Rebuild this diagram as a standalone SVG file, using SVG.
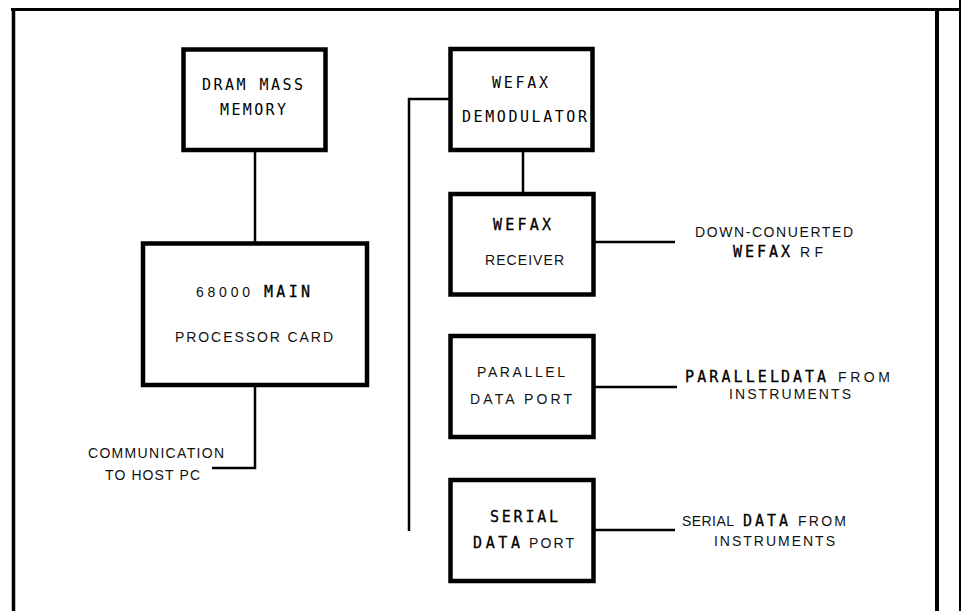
<svg xmlns="http://www.w3.org/2000/svg" width="961" height="611" viewBox="0 0 961 611">
<style>
.box{fill:#fff;stroke:#000;stroke-width:4.5}
.frame{stroke:#000;fill:none}
.conn{stroke:#000;stroke-width:2.5;fill:none}
.p{font-family:"DejaVu Sans Mono","Liberation Mono",monospace;font-size:15px;fill:#000}
.pb{font-family:"DejaVu Sans Mono","Liberation Mono",monospace;font-size:15px;fill:#000;stroke:#000;stroke-width:0.3}
.s{font-family:"Liberation Sans",Arial,sans-serif;font-size:14px;fill:#111}
</style>
<rect width="961" height="611" fill="#fff"/>
<g id="frame">
<line class="frame" x1="11" y1="9.5" x2="961" y2="9.5" stroke-width="3"/>
<line class="frame" x1="13.5" y1="8" x2="13.5" y2="611" stroke-width="3.5"/>
<line class="frame" x1="937" y1="9" x2="937" y2="611" stroke-width="4"/>
<line class="frame" x1="960" y1="0" x2="960" y2="611" stroke-width="2"/>
</g>
<g id="connectors">
<path class="conn" d="M255 150 V243"/>
<path class="conn" d="M255 385 V468 H212"/>
<path class="conn" d="M450 99 H409 V531"/>
<path class="conn" d="M523 150 V194"/>
<path class="conn" d="M593 242 H675"/>
<path class="conn" d="M593 387 H677"/>
<path class="conn" d="M593 530 H675"/>
</g>
<g id="dram">
<rect class="box" x="183.5" y="49.5" width="142" height="100.5"/>
<text class="p" x="202" y="90" textLength="101" lengthAdjust="spacing">DRAM MASS</text>
<text class="p" x="220" y="115" textLength="66" lengthAdjust="spacing">MEMORY</text>
</g>
<g id="demod">
<rect class="box" x="450.5" y="49" width="142" height="101"/>
<text class="p" x="492" y="88" textLength="56" lengthAdjust="spacing">WEFAX</text>
<text class="p" x="462" y="122" textLength="125" lengthAdjust="spacing">DEMODULATOR</text>
</g>
<g id="receiver">
<rect class="box" x="450.5" y="194" width="143" height="100.5"/>
<text class="pb" x="493" y="230" textLength="58" lengthAdjust="spacing">WEFAX</text>
<text class="s" x="485" y="265" textLength="79" lengthAdjust="spacing">RECEIVER</text>
</g>
<g id="processor">
<rect class="box" x="143" y="243.5" width="224" height="141.5" stroke-width="5"/>
<text class="s" x="196" y="297" textLength="54" lengthAdjust="spacing">68000</text>
<text class="pb" x="264" y="297" textLength="46" lengthAdjust="spacing">MAIN</text>
<text class="s" x="175" y="342" textLength="158" lengthAdjust="spacing">PROCESSOR CARD</text>
</g>
<g id="parallel">
<rect class="box" x="450.5" y="336" width="143" height="101"/>
<text class="s" x="477" y="377" textLength="88" lengthAdjust="spacing">PARALLEL</text>
<text class="s" x="470" y="404" textLength="102" lengthAdjust="spacing">DATA PORT</text>
</g>
<g id="serial">
<rect class="box" x="450.5" y="480" width="143" height="101"/>
<text class="pb" x="490" y="522" textLength="68" lengthAdjust="spacing">SERIAL</text>
<text class="pb" x="473" y="548" textLength="47" lengthAdjust="spacing">DATA</text>
<text class="s" x="529" y="548" textLength="45" lengthAdjust="spacing">PORT</text>
</g>
<g id="host-label">
<text class="s" x="88" y="458" textLength="136" lengthAdjust="spacing">COMMUNICATION</text>
<text class="s" x="105" y="480" textLength="95" lengthAdjust="spacing">TO HOST PC</text>
</g>
<g id="rf-label">
<text class="s" x="695" y="237" textLength="158" lengthAdjust="spacing">DOWN-CONUERTED</text>
<text class="pb" x="733" y="257" textLength="57" lengthAdjust="spacing">WEFAX</text>
<text class="s" x="800" y="257" textLength="23" lengthAdjust="spacing">RF</text>
</g>
<g id="parallel-label">
<text class="pb" x="685" y="382" textLength="94" lengthAdjust="spacing">PARALLEL</text>
<text class="pb" x="781" y="382" textLength="45" lengthAdjust="spacing">DATA</text>
<text class="s" x="838" y="382" textLength="52" lengthAdjust="spacing">FROM</text>
<text class="s" x="729" y="399" textLength="122" lengthAdjust="spacing">INSTRUMENTS</text>
</g>
<g id="serial-label">
<text class="s" x="682" y="526" textLength="52" lengthAdjust="spacing">SERIAL</text>
<text class="pb" x="743" y="526" textLength="45" lengthAdjust="spacing">DATA</text>
<text class="s" x="798" y="526" textLength="48" lengthAdjust="spacing">FROM</text>
<text class="s" x="714" y="546" textLength="121" lengthAdjust="spacing">INSTRUMENTS</text>
</g>
</svg>
